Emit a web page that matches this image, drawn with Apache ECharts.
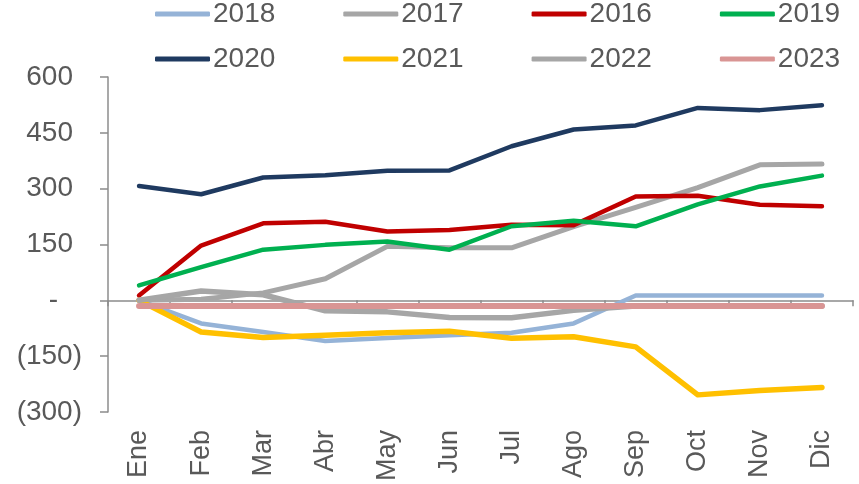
<!DOCTYPE html>
<html>
<head>
<meta charset="utf-8">
<script src="https://cdn.jsdelivr.net/npm/echarts@6/dist/echarts.min.js"></script>
<style>
  html, body { margin: 0; padding: 0; background: #fff; }
  #chart { width: 859px; height: 484px; }
</style>
</head>
<body>
<div id="chart"></div>
<script>
var months = ['Ene', 'Feb', 'Mar', 'Abr', 'May', 'Jun', 'Jul', 'Ago', 'Sep', 'Oct', 'Nov', 'Dic'];

var y2018 = [0, -62, -85, -109, -101, -94, -87, -62, 13, 13, 13, 13];
var y2017 = [0, 3, 20, 58, 145, 141, 141, 198, 250, 303, 364, 366];
var y2016 = [13, 147, 207, 211, 185, 189, 203, 202, 279, 281, 257, 253];
var y2019 = [40, 89, 136, 149, 158, 136, 199, 214, 199, 258, 306, 335];
var y2020 = [307, 285, 330, 336, 348, 349, 414, 459, 470, 517, 511, 524];
var y2021 = [0, -85, -100, -94, -87, -83, -102, -98, -125, -254, -242, -234];
var y2022 = [0, 25, 15, -28, -31, -46, -47, -27, -15, -15, -15, -15];
var y2023 = [-15, -15, -15, -15, -15, -15, -15, -15, -15, -15, -15, -15];

var yTicks = [-300, -150, 0, 150, 300, 450, 600];

var font = "'Liberation Sans', Arial, sans-serif";
var textColor = '#595959';
var axisColor = '#8c8c8c';

function line(name, data, color, width) {
    return {
        name: name,
        type: 'line',
        data: data,
        symbol: 'none',
        smooth: false,
        lineStyle: { color: color, width: width, cap: 'round', join: 'round' },
        itemStyle: { color: color }
    };
}

var dom = document.getElementById('chart');
var myChart = echarts.init(dom, null, { renderer: 'canvas' });

var legendBase = {
    left: 155,
    width: 720,
    padding: 0,
    orient: 'horizontal',
    icon: 'roundRect',
    itemWidth: 55,
    itemHeight: 5,
    itemGap: 68,
    textStyle: { fontFamily: font, fontSize: 28, color: textColor, padding: [0, 0, 0, -2] }
};

var option = {
    animation: false,
    backgroundColor: '#fff',
    textStyle: { fontFamily: font },
    legend: [
        Object.assign({}, legendBase, { top: 0, data: ['2018', '2017', '2016', '2019'] }),
        Object.assign({}, legendBase, { top: 45, data: ['2020', '2021', '2022', '2023'] })
    ],
    grid: { left: 108, right: 6, top: 77, bottom: 71, containLabel: false },
    xAxis: [{
        type: 'category',
        data: months,
        boundaryGap: true,
        position: 'bottom',
        axisLine: { onZero: true, lineStyle: { color: axisColor, width: 1.5 } },
        axisTick: { show: true, length: 6, lineStyle: { color: axisColor, width: 1.5 } },
        axisLabel: { show: false },
        splitLine: { show: false }
    }, {
        type: 'category',
        data: months,
        boundaryGap: true,
        position: 'bottom',
        axisLine: { show: false, onZero: false },
        axisTick: { show: false },
        axisLabel: {
            rotate: 90,
            margin: 18,
            fontFamily: font,
            fontSize: 27,
            color: textColor
        },
        splitLine: { show: false }
    }],
    yAxis: {
        type: 'value',
        min: yTicks[0],
        max: yTicks[yTicks.length - 1],
        interval: 150,
        axisLine: { show: true, lineStyle: { color: axisColor, width: 1.5 } },
        axisTick: { show: true, length: 8, lineStyle: { color: axisColor, width: 1.5 } },
        splitLine: { show: false },
        axisLabel: {
            margin: 26,
            fontFamily: font,
            fontSize: 28,
            color: textColor,
            // accounting style: positives keep room for ")", zero shown as a dash
            formatter: function (v) {
                if (v === 0) return '{z|-}';
                if (v < 0) return '(' + Math.abs(v) + ')';
                return '{p|' + v + '}';
            },
            rich: {
                p: { fontFamily: font, fontSize: 28, color: textColor, padding: [0, 9, 0, 0] },
                z: { fontFamily: font, fontSize: 28, color: textColor, padding: [0, 24, 0, 0] }
            }
        }
    },
    series: [
        line('2018', y2018, '#95B3D7', 4.5),
        line('2017', y2017, '#A6A6A6', 5),
        line('2016', y2016, '#C00000', 4.5),
        line('2019', y2019, '#00B050', 4.5),
        line('2020', y2020, '#1F3A60', 4.5),
        line('2021', y2021, '#FFC000', 5.5),
        line('2022', y2022, '#A6A6A6', 5.5),
        line('2023', y2023, '#D99594', 6)
    ]
};

if (option && typeof option === 'object') {
    myChart.setOption(option, true);
}
</script>
</body>
</html>
